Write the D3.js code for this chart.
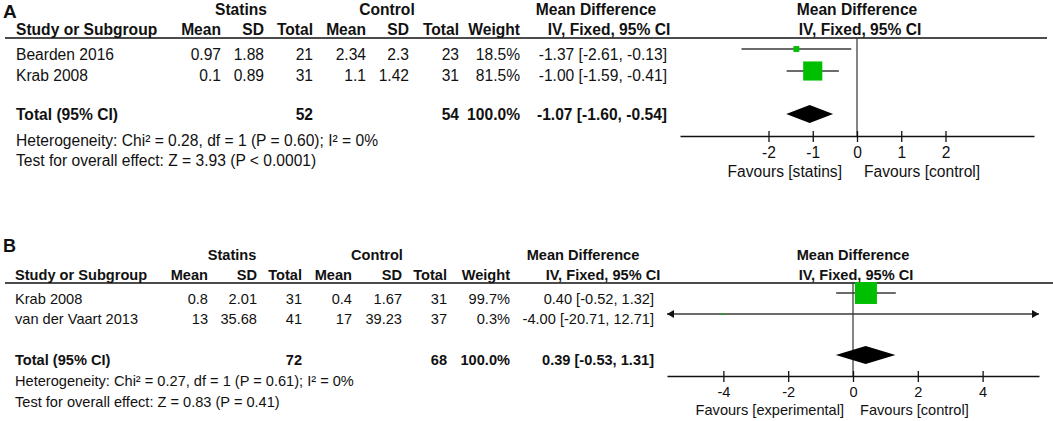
<!DOCTYPE html>
<html>
	<head>
		<meta charset="utf-8">
		<style>
			body { margin: 0; background: #fff; }
			svg { display: block; font-family: "Liberation Sans", Arial, sans-serif; }
			text { fill: #111; }
			.b { font-weight: bold; }
		</style>
		<script src="https://cdn.jsdelivr.net/npm/d3@7"></script>
		<title>Forest plots</title>
	</head>
	<body>
		<script>
			// panel A data
			var studiesA = ["Bearden 2016", "Krab 2008"];
			var statMeanA = [0.97, 0.1];
			var statSdA = [1.88, 0.89];
			var statNA = [21, 31];
			var ctrlMeanA = [2.34, 1.1];
			var ctrlSdA = [2.3, 1.42];
			var ctrlNA = [23, 31];
			var weightA = [18.5, 81.5];
			var mdA = [-1.37, -1.00];
			var loA = [-2.61, -1.59];
			var hiA = [-0.13, -0.41];
			var totalNA = [52, 54];
			var totalA = [-1.07, -1.60, -0.54];
			var ticksA = [-2, -1, 0, 1, 2];
			var favoursA = ["Favours [statins]", "Favours [control]"];
			var hetA = "Heterogeneity: Chi² = 0.28, df = 1 (P = 0.60); I² = 0%";
			var testA = "Test for overall effect: Z = 3.93 (P < 0.0001)";

			// panel B data
			var studiesB = ["Krab 2008", "van der Vaart 2013"];
			var statMeanB = [0.8, 13];
			var statSdB = [2.01, 35.68];
			var statNB = [31, 41];
			var ctrlMeanB = [0.4, 17];
			var ctrlSdB = [1.67, 39.23];
			var ctrlNB = [31, 37];
			var weightB = [99.7, 0.3];
			var mdB = [0.40, -4.00];
			var loB = [-0.52, -20.71];
			var hiB = [1.32, 12.71];
			var totalNB = [72, 68];
			var totalB = [0.39, -0.53, 1.31];
			var ticksB = [-4, -2, 0, 2, 4];
			var favoursB = ["Favours [experimental]", "Favours [control]"];
			var hetB = "Heterogeneity: Chi² = 0.27, df = 1 (P = 0.61); I² = 0%";
			var testB = "Test for overall effect: Z = 0.83 (P = 0.41)";

			var svg = d3.select("body").append("svg")
				.attr("width", 1053)
				.attr("height", 421);

			// plain hyphen for negatives, like the original
			var loc = d3.formatLocale({decimal: ".", thousands: ",", grouping: [3], currency: ["", ""], minus: "-"});
			var f2 = loc.format(".2f");
			var f1 = loc.format(".1f");
			var fd = loc.format("d");

			function txt(g, x, y, s, anchor, bold) {
				return g.append("text")
					.attr("x", x).attr("y", y)
					.attr("text-anchor", anchor || "start")
					.attr("class", bold ? "b" : null)
					.text(s);
			}

			function drawPanel(p) {
				var g = svg.append("g").style("font-size", p.fs + "px");
				txt(g, 3, p.labelY, p.label, "start", true).style("font-size", p.labelFs + "px");

				// group headers
				txt(g, p.statX, p.grpY, "Statins", "middle", true);
				txt(g, p.ctrlX, p.grpY, "Control", "middle", true);
				txt(g, p.mdHeadX, p.grpY, "Mean Difference", "middle", true);
				txt(g, p.x(0), p.grpY, "Mean Difference", "middle", true);

				// column headers
				txt(g, p.left, p.headY, "Study or Subgroup", "start", true);
				var heads = ["Mean", "SD", "Total", "Mean", "SD", "Total", "Weight"];
				heads.forEach(function(h, i) { txt(g, p.cols[i], p.headY, h, "end", true); });
				txt(g, p.ivX, p.headY, "IV, Fixed, 95% CI", "middle", true);
				txt(g, p.x(0) + 3, p.headY, "IV, Fixed, 95% CI", "middle", true);

				g.append("line")
					.attr("x1", 5).attr("x2", p.lineEnd)
					.attr("y1", p.lineY).attr("y2", p.lineY)
					.attr("stroke", "#111").attr("stroke-width", 1.3);

				// study rows
				p.studies.forEach(function(s, i) {
					var y = p.rowY[i];
					txt(g, p.left, y, s);
					var vals = [p.sm[i], p.ssd[i], p.sn[i], p.cm[i], p.csd[i], p.cn[i], f1(p.w[i]) + "%"];
					vals.forEach(function(v, j) { txt(g, p.cols[j], y, String(v), "end"); });
					txt(g, p.mdX, y, f2(p.md[i]) + " [" + f2(p.lo[i]) + ", " + f2(p.hi[i]) + "]", "end");
				});

				// total row
				txt(g, p.left, p.totY, "Total (95% CI)", "start", true);
				txt(g, p.cols[2], p.totY, p.totN[0], "end", true);
				txt(g, p.cols[5], p.totY, p.totN[1], "end", true);
				txt(g, p.cols[6], p.totY, "100.0%", "end", true);
				txt(g, p.mdX, p.totY, f2(p.tot[0]) + " [" + f2(p.tot[1]) + ", " + f2(p.tot[2]) + "]", "end", true);

				txt(g, p.left, p.hetY, p.het);
				txt(g, p.left, p.testY, p.test);

				// plot
				var x = p.x;
				var dom = x.domain();
				var size = d3.scaleLinear().domain([0, 100]).range([2, p.maxSq]);

				g.append("line")
					.attr("x1", x(0)).attr("x2", x(0))
					.attr("y1", p.lineY).attr("y2", p.axisY)
					.attr("stroke", "#333").attr("stroke-width", 1.2);

				p.studies.forEach(function(s, i) {
					var y = p.markY[i];
					var a = Math.max(p.lo[i], dom[0]), b = Math.min(p.hi[i], dom[1]);
					g.append("line")
						.attr("x1", x(a)).attr("x2", x(b))
						.attr("y1", y).attr("y2", y)
						.attr("stroke", "#3a3a3a").attr("stroke-width", 1.3);
					if (p.lo[i] < dom[0]) {
						g.append("path")
							.attr("d", "M" + x(dom[0]) + "," + y + "l7,-4v8z")
							.attr("fill", "#111");
					}
					if (p.hi[i] > dom[1]) {
						g.append("path")
							.attr("d", "M" + x(dom[1]) + "," + y + "l-7,-4v8z")
							.attr("fill", "#111");
					}
					var sq = size(p.w[i]);
					g.append("rect")
						.attr("x", x(p.md[i]) - sq / 2).attr("y", y - sq / 2)
						.attr("width", sq).attr("height", sq)
						.attr("fill", "#00bf00");
				});

				// pooled diamond
				var dy = p.diamY;
				g.append("path")
					.attr("d", "M" + x(p.tot[1]) + "," + dy +
						"L" + x(p.tot[0]) + "," + (dy - 9) +
						"L" + x(p.tot[2]) + "," + dy +
						"L" + x(p.tot[0]) + "," + (dy + 9) + "Z")
					.attr("fill", "#000");

				// axis
				var axis = d3.axisBottom(x).tickValues(p.ticks).tickSize(0).tickFormat(fd);
				var ag = g.append("g").attr("transform", "translate(0," + p.axisY + ")").call(axis);
				ag.select(".domain").attr("stroke", "#111").attr("stroke-width", 1.3);
				ag.selectAll(".tick line").remove();
				ag.selectAll(".tick").append("line")
					.attr("y1", -5).attr("y2", 6)
					.attr("stroke", "#111").attr("stroke-width", 1.3);
				ag.selectAll(".tick text")
					.attr("y", p.tickY - p.axisY).attr("dy", 0)
					.style("font-size", p.fs + "px")
					.style("font-family", "Liberation Sans, Arial, sans-serif")
					.attr("fill", "#111");
				ag.attr("font-size", null).attr("font-family", null);

				txt(g, x(0) - p.favGap[0], p.favY, p.favours[0], "end");
				txt(g, x(0) + p.favGap[1], p.favY, p.favours[1], "start");
			}

			drawPanel({
				label: "A", labelY: 18, labelFs: 19, fs: 15.6,
				grpY: 15, headY: 35, lineY: 38, lineEnd: 1047, left: 16,
				statX: 241, ctrlX: 387, mdHeadX: 596, ivX: 609, mdX: 667,
				cols: [221, 264, 313, 366, 409, 459, 520],
				rowY: [60, 81], markY: [49, 71], totY: 120, diamY: 114,
				hetY: 146, testY: 166,
				x: d3.scaleLinear().domain([-4, 4]).range([680, 1034]),
				axisY: 136, tickY: 158, favY: 177, favGap: [15, 7], maxSq: 23,
				studies: studiesA, sm: statMeanA, ssd: statSdA, sn: statNA,
				cm: ctrlMeanA, csd: ctrlSdA, cn: ctrlNA, w: weightA,
				md: mdA, lo: loA, hi: hiA, totN: totalNA, tot: totalA,
				ticks: ticksA, favours: favoursA, het: hetA, test: testA
			});

			drawPanel({
				label: "B", labelY: 252, labelFs: 18, fs: 14.6,
				grpY: 260, headY: 280, lineY: 283, lineEnd: 1053, left: 15,
				statX: 232, ctrlX: 377, mdHeadX: 583, ivX: 603, mdX: 654,
				cols: [208, 257, 302, 352, 402, 447, 510],
				rowY: [304, 324], markY: [293, 314], totY: 365, diamY: 355,
				hetY: 386, testY: 407,
				x: d3.scaleLinear().domain([-5.74, 5.74]).range([667, 1039]),
				axisY: 376, tickY: 397, favY: 415, favGap: [9, 7], maxSq: 22,
				studies: studiesB, sm: statMeanB, ssd: statSdB, sn: statNB,
				cm: ctrlMeanB, csd: ctrlSdB, cn: ctrlNB, w: weightB,
				md: mdB, lo: loB, hi: hiB, totN: totalNB, tot: totalB,
				ticks: ticksB, favours: favoursB, het: hetB, test: testB
			});
		</script>
	</body>
</html>
